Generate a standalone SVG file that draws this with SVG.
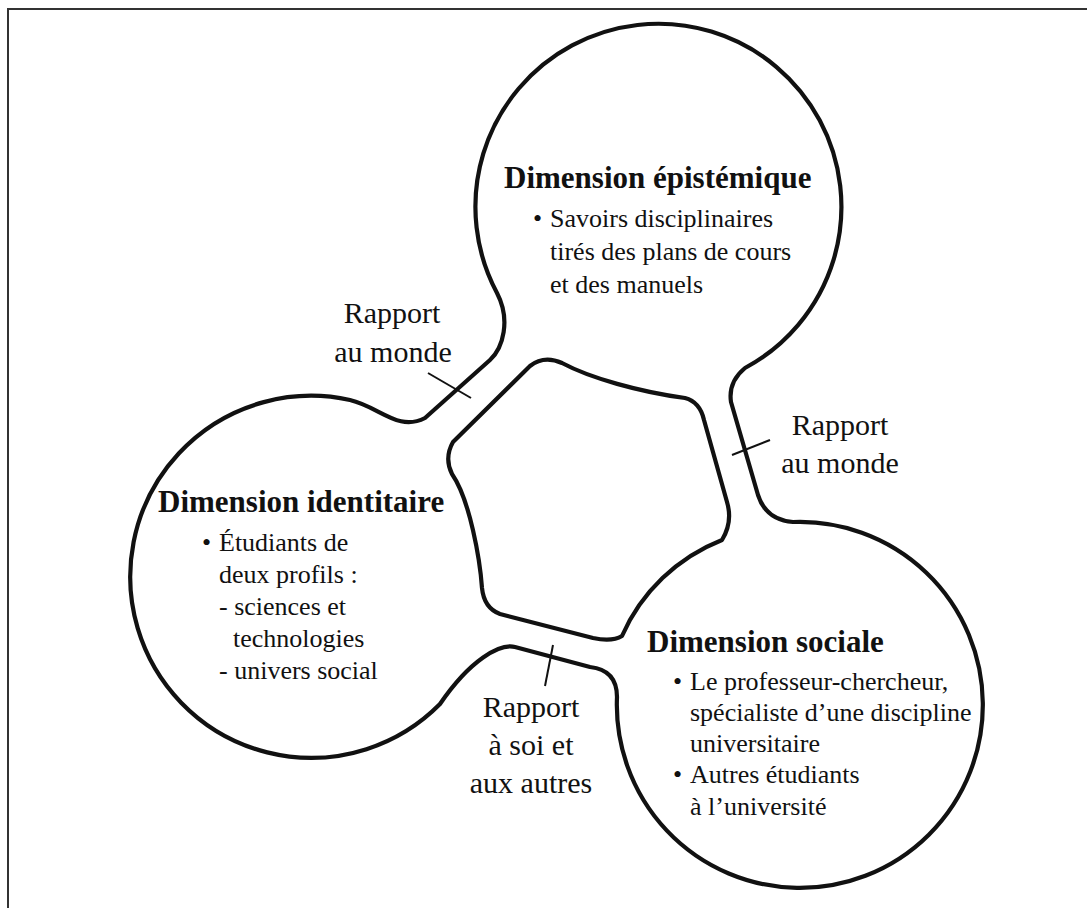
<svg xmlns="http://www.w3.org/2000/svg" width="1087" height="908" viewBox="0 0 1087 908">
<style>
.frame{fill:none;stroke:#333;stroke-width:2}
.outline{fill:none;stroke:#111;stroke-width:4.2;stroke-linejoin:round}
.tick{fill:none;stroke:#111;stroke-width:2}
.h{font-family:"Liberation Serif","Times New Roman",serif;font-weight:bold;font-size:31px;fill:#111}
.b{font-family:"Liberation Serif","Times New Roman",serif;font-size:26px;fill:#111}
.l{font-family:"Liberation Serif","Times New Roman",serif;font-size:30px;fill:#111;text-anchor:middle}
</style>
<rect width="1087" height="908" fill="#fff"/>
<path class="frame" d="M8 908 V9 H1087"/>
<g id="shape">
<path class="outline" d="M497 293 A183 183 0 1 1 745 368 Q728 382 731 402 L758 495 Q766 520 793 522 A183 183 0 1 1 617 697 Q617 670 590 667 L515 647 C500 643 470 660 440 704 A181 181 0 1 1 350 400 C380 407 398 432 425 418 L490 360 C503 348 511 320 497 293 Z"/>
<path class="outline" d="M453 442 L530 366 Q544 355 562 363 C590 378 640 392 685 398 Q700 402 704 420 L727 502 Q733 522 722 540 A182 182 0 0 0 622 636 Q612 642 593 638 L500 614 Q484 608 482 588 C480 560 470 500 452 474 Q444 458 453 442 Z"/>
</g>
<g id="epistemique">
<text class="h" x="504" y="188">Dimension épistémique</text>
<text class="b" x="533" y="227">•</text>
<text class="b" x="550" y="227">Savoirs disciplinaires</text>
<text class="b" x="550" y="260">tirés des plans de cours</text>
<text class="b" x="550" y="293">et des manuels</text>
</g>
<g id="identitaire">
<text class="h" x="158" y="512">Dimension identitaire</text>
<text class="b" x="202" y="551">•</text>
<text class="b" x="219" y="551">Étudiants de</text>
<text class="b" x="219" y="583">deux profils :</text>
<text class="b" x="219" y="615">- sciences et</text>
<text class="b" x="233" y="647">technologies</text>
<text class="b" x="219" y="679">- univers social</text>
</g>
<g id="sociale">
<text class="h" x="647" y="652">Dimension sociale</text>
<text class="b" x="673" y="690">•</text>
<text class="b" x="690" y="690">Le professeur-chercheur,</text>
<text class="b" x="690" y="721">spécialiste d’une discipline</text>
<text class="b" x="690" y="752">universitaire</text>
<text class="b" x="673" y="783">•</text>
<text class="b" x="690" y="783">Autres étudiants</text>
<text class="b" x="690" y="815">à l’université</text>
</g>
<g id="connectors">
<path class="tick" d="M428 373 L471 398"/>
<path class="tick" d="M732 455 L770 440"/>
<path class="tick" d="M553 645 L545 686"/>
</g>
<g id="labels">
<text class="l" x="392" y="323">Rapport</text>
<text class="l" x="393" y="362">au monde</text>
<text class="l" x="840" y="435">Rapport</text>
<text class="l" x="840" y="473">au monde</text>
<text class="l" x="531" y="717">Rapport</text>
<text class="l" x="531" y="755">à soi et</text>
<text class="l" x="531" y="793">aux autres</text>
</g>
</svg>
